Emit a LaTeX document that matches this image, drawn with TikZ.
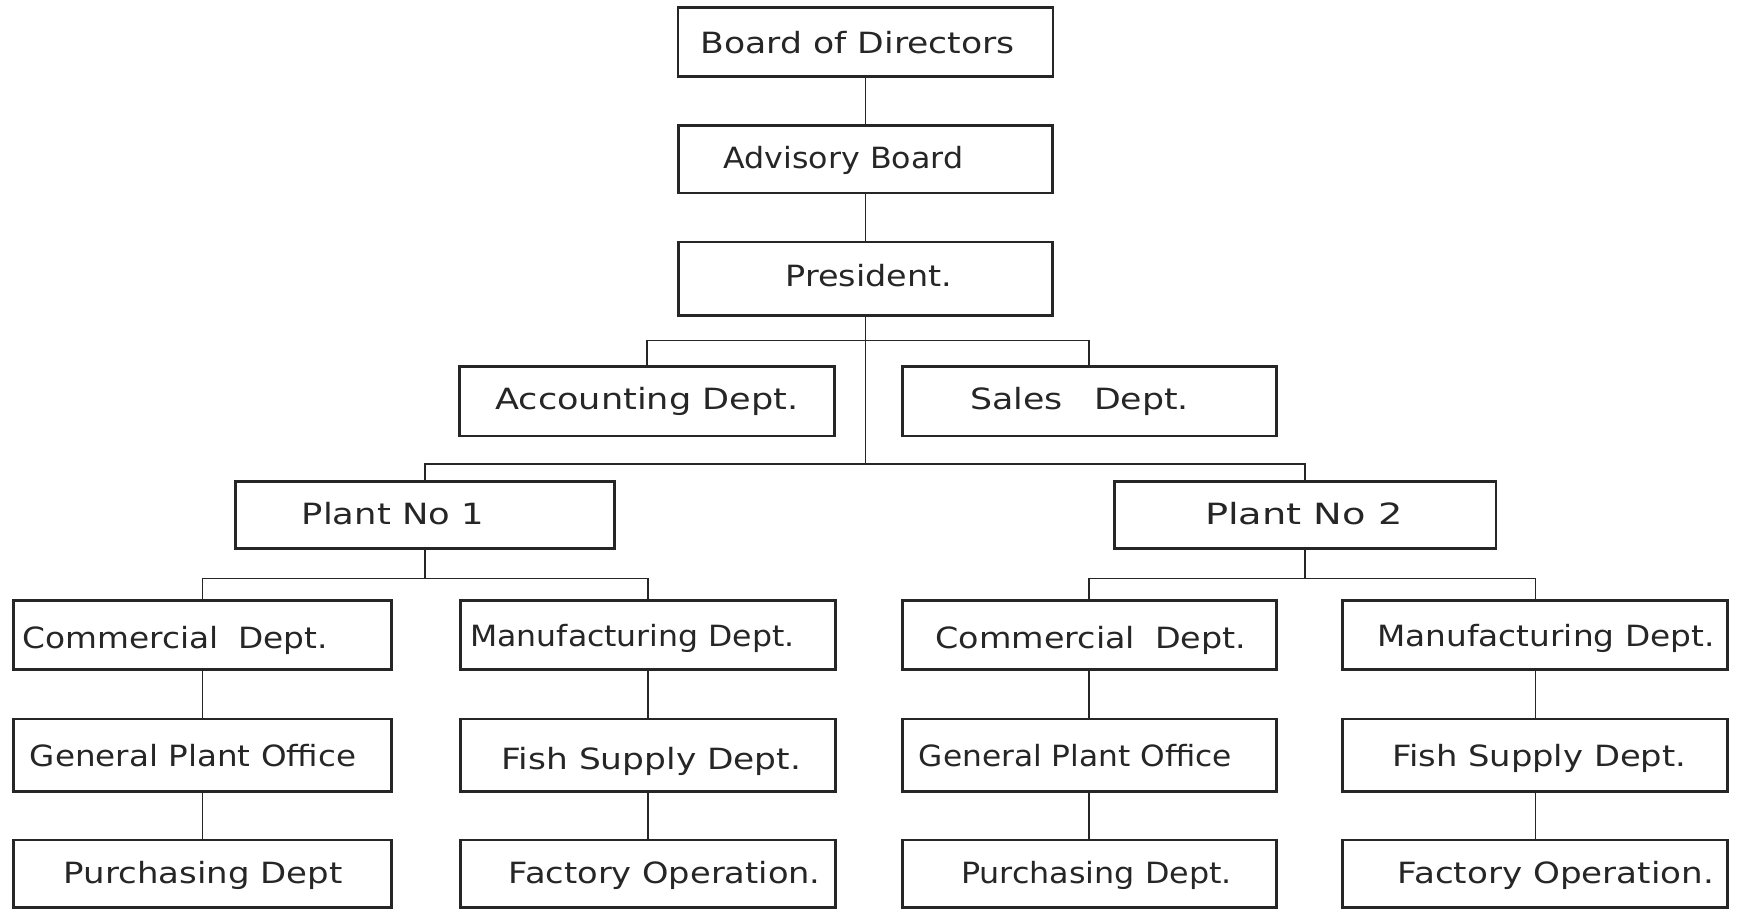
\documentclass[tikz,border=0pt]{standalone}
\usepackage{fontspec}
\setmainfont{DejaVu Sans}
\usepackage{graphicx}
\newlength\ul \setlength\ul{0.02cm}
\newcommand\tw[2]{\resizebox{#1\ul}{\height}{#2}}
\definecolor{ink}{gray}{0.15}
\begin{document}
\begin{tikzpicture}[x=0.02cm,y=-0.02cm,
  box/.style={draw=ink, line width=1.4pt, inner sep=0pt, fill=white},
  conn/.style={draw=ink, line width=0.7pt},
  txt/.style={anchor=base, inner sep=0pt, text=ink, font=\fontsize{15}{18}\selectfont}]
\useasboundingbox[fill=white] (0,0) rectangle (1568,820);
% top
\node[box, minimum width=338\ul, minimum height=62\ul] (bod) at (780,38) {};
\node[box, minimum width=337\ul, minimum height=61\ul] (adv) at (780,143.5) {};
\node[box, minimum width=337\ul, minimum height=66\ul] (pres) at (780,251) {};
\node[box, minimum width=338\ul, minimum height=63\ul] (acc) at (583,361.5) {};
\node[box, minimum width=337\ul, minimum height=63\ul] (sales) at (981.5,361.5) {};
\node[box, minimum width=342\ul, minimum height=60\ul] (p1) at (383,464) {};
\node[box, minimum width=344\ul, minimum height=60\ul] (p2) at (1176,464) {};
% left plant
\node[box, minimum width=341\ul, minimum height=62\ul] (cl) at (182.5,572) {};
\node[box, minimum width=338\ul, minimum height=62\ul] (ml) at (584,572) {};
\node[box, minimum width=341\ul, minimum height=65\ul] (gl) at (182.5,680.5) {};
\node[box, minimum width=338\ul, minimum height=65\ul] (fl) at (584,680.5) {};
\node[box, minimum width=341\ul, minimum height=61\ul] (pl) at (182.5,787.5) {};
\node[box, minimum width=338\ul, minimum height=61\ul] (ol) at (584,787.5) {};
% right plant
\node[box, minimum width=337\ul, minimum height=62\ul] (cr) at (981.5,572) {};
\node[box, minimum width=347\ul, minimum height=62\ul] (mr) at (1383.5,572) {};
\node[box, minimum width=337\ul, minimum height=65\ul] (gr) at (981.5,680.5) {};
\node[box, minimum width=347\ul, minimum height=65\ul] (fr) at (1383.5,680.5) {};
\node[box, minimum width=337\ul, minimum height=61\ul] (pr) at (981.5,787.5) {};
\node[box, minimum width=347\ul, minimum height=61\ul] (or) at (1383.5,787.5) {};
% texts
\node[txt] (tbod) at (773,48) {\tw{283}{Board of Directors}};
\node[txt] (tadv) at (760,152) {\tw{216}{Advisory Board}};
\node[txt] (tpres) at (783,258) {\tw{150}{President.}};
\node[txt] (tacc) at (583,369) {\tw{273}{Accounting Dept.}};
\node[txt] (tsales) at (973,369) {\tw{197}{Sales\hspace{0.9em}Dept.}};
\node[txt] (tp1) at (354,473) {\tw{164}{Plant No 1}};
\node[txt] (tp2) at (1175,473) {\tw{178}{Plant No 2}};
\node[txt] (tcl) at (158,584) {\tw{275}{Commercial\hspace{0.6em}Dept.}};
\node[txt] (tml) at (570,583) {\tw{292}{Manufacturing Dept.}};
\node[txt] (tgl) at (174,691) {\tw{294}{General Plant Office}};
\node[txt] (tfl) at (587,693) {\tw{270}{Fish Supply Dept.}};
\node[txt] (tpl) at (183,796) {\tw{251}{Purchasing Dept}};
\node[txt] (tol) at (599,796) {\tw{281}{Factory Operation.}};
\node[txt] (tcr) at (983,584) {\tw{280}{Commercial\hspace{0.6em}Dept.}};
\node[txt] (tmr) at (1393,583) {\tw{304}{Manufacturing Dept.}};
\node[txt] (tgr) at (969,691) {\tw{282}{General Plant Office}};
\node[txt] (tfr) at (1387,691) {\tw{265}{Fish Supply Dept.}};
\node[txt] (tpr) at (988,796) {\tw{244}{Purchasing Dept.}};
\node[txt] (tor) at (1402,796) {\tw{285}{Factory Operation.}};
% connectors
\coordinate (j1) at (780,307);
\coordinate (j2) at (780,418);
\draw[conn] (bod.south) -- (adv.north);
\draw[conn] (adv.south) -- (pres.north);
\draw[conn] (pres.south) -- (j2);
\draw[conn] (acc.north) |- (j1) -| (sales.north);
\draw[conn] (p1.north) |- (j2) -| (p2.north);
\path (p1.south) ++(0,26) coordinate (j3);
\path (p2.south) ++(0,26) coordinate (j4);
\draw[conn] (p1.south) -- (j3);
\draw[conn] (p2.south) -- (j4);
\draw[conn] (cl.north) |- (j3) -| (ml.north);
\draw[conn] (cr.north) |- (j4) -| (mr.north);
\draw[conn] (cl.south) -- (gl.north);
\draw[conn] (gl.south) -- (pl.north);
\draw[conn] (ml.south) -- (fl.north);
\draw[conn] (fl.south) -- (ol.north);
\draw[conn] (cr.south) -- (gr.north);
\draw[conn] (gr.south) -- (pr.north);
\draw[conn] (mr.south) -- (fr.north);
\draw[conn] (fr.south) -- (or.north);
\end{tikzpicture}
\end{document}
